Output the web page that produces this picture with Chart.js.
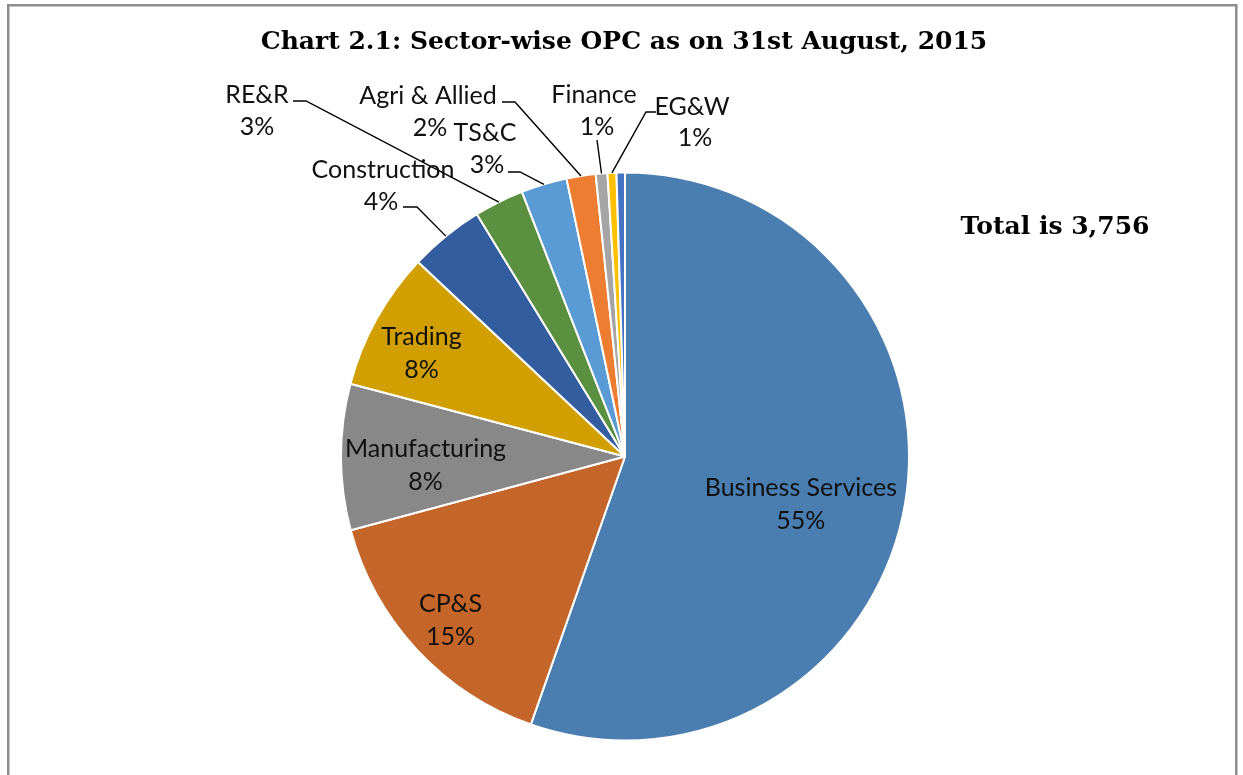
<!DOCTYPE html>
<html><head><meta charset="utf-8">
<script src="https://cdn.jsdelivr.net/npm/chart.js@4.4.1/dist/chart.umd.min.js"></script>
<style>html,body{margin:0;padding:0;background:#fff;overflow:hidden;}canvas{display:block;}</style>
</head><body>
<canvas id="c" width="1243" height="775"></canvas>
<script>
// ---- data ----
const categories = ['Business Services','CP&S','Manufacturing','Trading','Construction','RE&R','TS&C','Agri & Allied','Finance','EG&W',''];
const counts = [2080, 580, 312, 296, 160, 106, 98, 62, 25, 19, 18];
const sliceColors = ['#4a7eb0','#c4652a','#888888','#d29f00','#345da0','#5a9040','#5b9bd5','#ed7d31','#a5a5a5','#ffc000','#4472c4'];
const chartTitle = 'Chart 2.1: Sector-wise OPC as on 31st August, 2015';
const totalLabel = 'Total is 3,756';

// ---- label layout (styles / positions only) ----
const insideLabels = { // index: radial fraction, angle tweak (deg)
  0: {frac: 0.642, dAng: 5.6},
  1: {frac: 0.842, dAng: -0.3},
  2: {frac: 0.703, dAng: -2.4},
  3: {frac: 0.803, dAng: -2.2}
};
const outsideLabels = { // index: text line centers + leader elbow points
  4: {t1:[383,170], t2:[381,202], leader:[[403,207],[417,207]]},
  5: {t1:[257,95],  t2:[257,127], leader:[[293,101],[306,101]]},
  6: {t1:[485,133], t2:[487,165], leader:[[508,172],[520,172]]},
  7: {t1:[428,96],  t2:[430,128], leader:[[502,102],[515,102]]},
  8: {t1:[594,95],  t2:[597,127], leader:[[597,140]]},
  9: {t1:[692,107], t2:[695,138], leader:[[656,112],[646,112]]}
};
const labelFont = '25px Lato, "Open Sans", sans-serif';
const titleFont = 'bold 25px "DejaVu Serif", serif';

const total = counts.reduce((a,b)=>a+b,0);
const pct = v => Math.round(v/total*100) + '%';

const framePlugin = {
  id: 'frame',
  beforeDraw(chart){
    const ctx = chart.ctx;
    ctx.save();
    ctx.fillStyle = '#fff';
    ctx.fillRect(0,0,chart.width,chart.height);
    ctx.strokeStyle = '#8e8e8e';
    ctx.lineWidth = 2.5;
    ctx.strokeRect(8.25, 5.25, 1228, 820);
    ctx.restore();
  }
};

const labelPlugin = {
  id: 'labels',
  afterDatasetsDraw(chart){
    const ctx = chart.ctx;
    const meta = chart.getDatasetMeta(0);
    ctx.save();
    ctx.fillStyle = '#000';
    ctx.font = titleFont;
    ctx.textAlign = 'center';
    ctx.textBaseline = 'alphabetic';
    ctx.fillText(chartTitle, 624, 49);
    ctx.fillText(totalLabel, 1055, 234);

    ctx.font = labelFont;
    ctx.textBaseline = 'middle';
    meta.data.forEach((arc, i) => {
      if (!categories[i]) return;
      const p = arc.getProps(['x','y','startAngle','endAngle','outerRadius'], true);
      const mid = (p.startAngle + p.endAngle)/2;
      ctx.fillStyle = '#111';
      if (insideLabels[i]) {
        const L = insideLabels[i];
        const a = mid + L.dAng*Math.PI/180;
        const r = p.outerRadius*L.frac;
        const cx = p.x + r*Math.cos(a), cy = p.y + r*Math.sin(a);
        ctx.fillText(categories[i], cx, cy - 16.5);
        ctx.fillText(pct(counts[i]), cx, cy + 16.5);
      } else if (outsideLabels[i]) {
        const L = outsideLabels[i];
        ctx.fillText(categories[i], L.t1[0], L.t1[1]);
        ctx.fillText(pct(counts[i]), L.t2[0], L.t2[1]);
        const ex = p.x + p.outerRadius*Math.cos(mid), ey = p.y + p.outerRadius*Math.sin(mid);
        ctx.beginPath();
        ctx.strokeStyle = '#000';
        ctx.lineWidth = 1.4;
        ctx.moveTo(L.leader[0][0], L.leader[0][1]);
        for (let k=1;k<L.leader.length;k++) ctx.lineTo(L.leader[k][0], L.leader[k][1]);
        ctx.lineTo(ex, ey);
        ctx.stroke();
      }
    });
    ctx.restore();
  }
};

new Chart(document.getElementById('c'), {
  type: 'pie',
  data: {
    labels: categories,
    datasets: [{
      data: counts,
      backgroundColor: sliceColors,
      borderColor: '#ffffff',
      borderWidth: 2
    }]
  },
  options: {
    responsive: false,
    animation: false,
    devicePixelRatio: 1,
    layout: { padding: { left: 340, right: 333, top: 171, bottom: 33 } },
    plugins: {
      legend: { display: false },
      tooltip: { enabled: false },
      title: { display: false }
    },
    events: []
  },
  plugins: [framePlugin, labelPlugin]
});
</script>
</body></html>
